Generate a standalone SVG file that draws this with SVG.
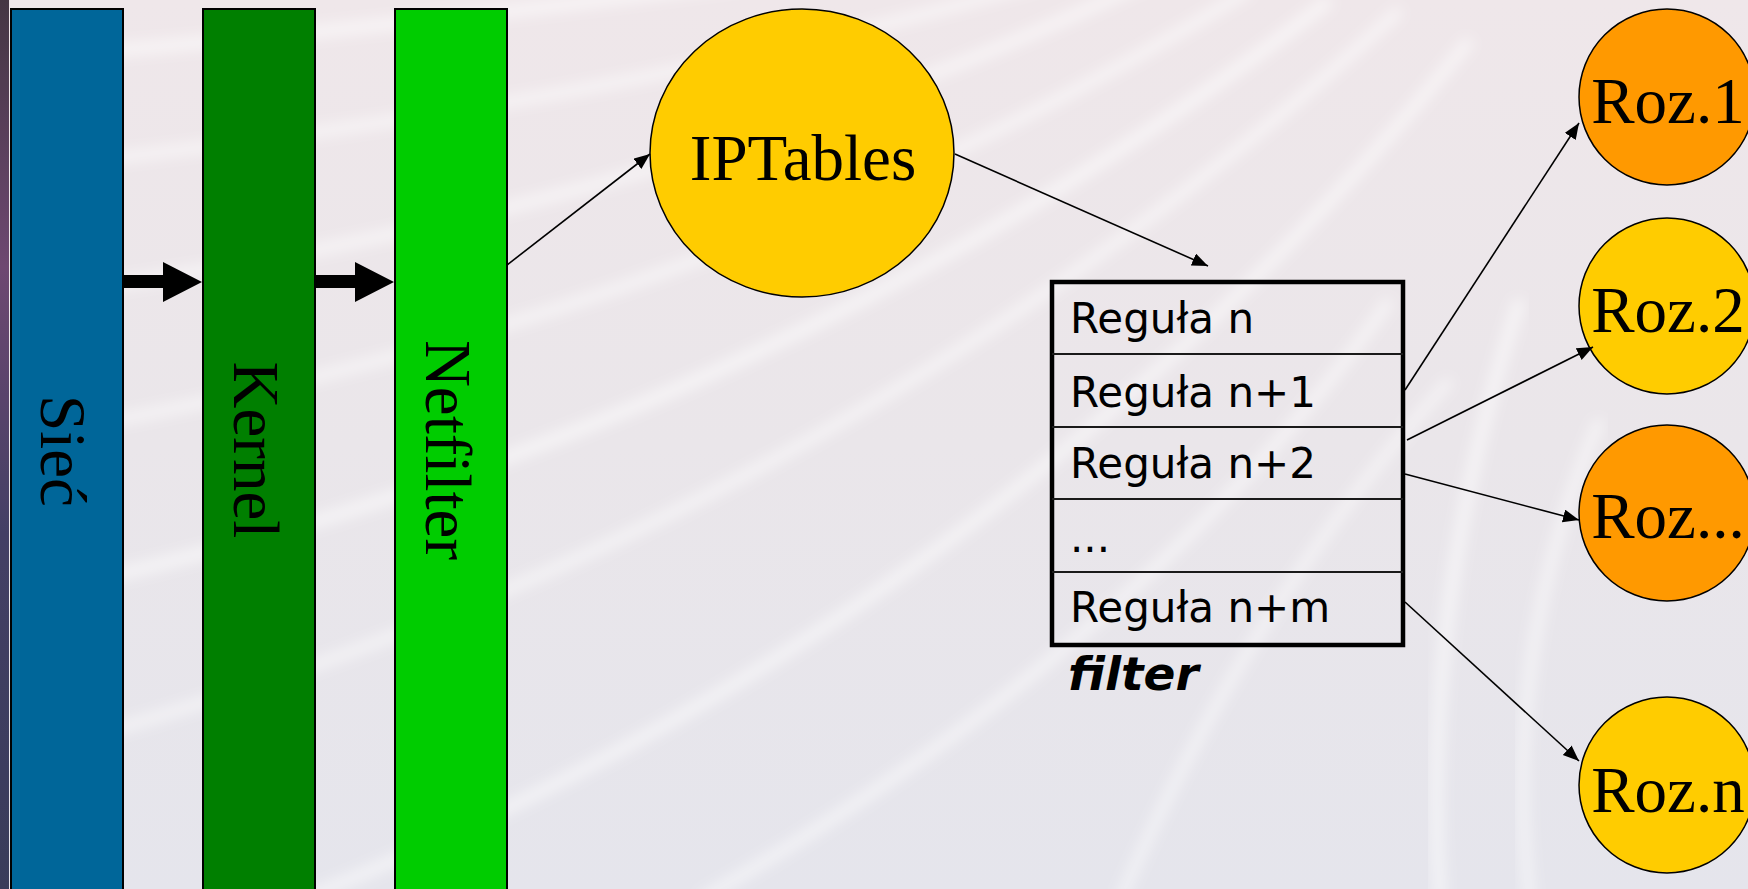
<svg xmlns="http://www.w3.org/2000/svg" width="1748" height="889" viewBox="0 0 1748 889">
  <defs>
    <linearGradient id="bg" x1="0" y1="0" x2="0" y2="1">
      <stop offset="0" stop-color="#EFE7EA"/>
      <stop offset="0.5" stop-color="#EAE6EA"/>
      <stop offset="1" stop-color="#E5E5EC"/>
    </linearGradient>
    <linearGradient id="edge" x1="0" y1="0" x2="0" y2="1">
      <stop offset="0" stop-color="#2B1B2A"/>
      <stop offset="0.3" stop-color="#5A2F5E"/>
      <stop offset="0.6" stop-color="#2A2550"/>
      <stop offset="1" stop-color="#1E2244"/>
    </linearGradient>
    <filter id="soft" x="-10%" y="-10%" width="120%" height="120%">
      <feGaussianBlur stdDeviation="7"/>
    </filter>
    <marker id="arr" markerUnits="userSpaceOnUse" markerWidth="18" markerHeight="14" refX="16" refY="6.5" orient="auto">
      <path d="M0,0 L16,6.5 L0,13 z" fill="#000"/>
    </marker>
  </defs>
  <style>
    .bar{stroke:#000;stroke-width:2}
    .vtxt{font-family:"Liberation Serif","Times New Roman",serif;font-size:65px;fill:#000}
    .node{stroke:#000;stroke-width:1.5}
    .ntxt{font-family:"Liberation Serif","Times New Roman",serif;font-size:65px;fill:#000;text-anchor:middle}
    .row{font-family:"DejaVu Sans",Verdana,sans-serif;font-size:42px;fill:#000}
    .cap{font-family:"DejaVu Sans",Verdana,sans-serif;font-size:47px;font-weight:bold;font-style:italic;fill:#000}
    .link{stroke:#000;stroke-width:1.6;fill:none;marker-end:url(#arr)}
    .streak{fill:none;stroke:#FFFFFF;stroke-opacity:0.6;filter:url(#soft)}
  </style>

  <!-- backdrop with soft light streaks -->
  <rect x="0" y="0" width="1748" height="889" fill="url(#bg)"/>
  <g id="backdrop-streaks">
    <path class="streak" stroke-width="12" d="M0,60 Q500,20 900,-40"/>
    <path class="streak" stroke-width="10" d="M0,170 Q600,110 1050,-20"/>
    <path class="streak" stroke-width="11" d="M0,300 Q650,220 1150,-20"/>
    <path class="streak" stroke-width="10" d="M0,440 Q700,330 1250,-10"/>
    <path class="streak" stroke-width="12" d="M0,600 Q750,450 1330,0"/>
    <path class="streak" stroke-width="10" d="M0,760 Q800,560 1400,10"/>
    <path class="streak" stroke-width="11" d="M300,900 Q1000,620 1470,40"/>
    <path class="streak" stroke-width="10" d="M700,900 Q1150,640 1390,300"/>
    <path class="streak" stroke-width="12" d="M1440,900 Q1420,600 1520,300"/>
    <path class="streak" stroke-width="10" d="M1530,900 Q1500,650 1600,420"/>
    <path class="streak" stroke-width="9" d="M1120,900 Q1250,600 1450,380"/>
  </g>
  <rect x="0" y="0" width="9" height="889" fill="url(#edge)"/>
  <rect x="0" y="0" width="9" height="889" fill="#FFFFFF" opacity="0.12"/>

  <!-- layer bars -->
  <g id="siec">
    <rect class="bar" x="11" y="9" width="112" height="900" fill="#006699"/>
    <text class="vtxt" transform="translate(41,451) rotate(90)" text-anchor="middle">Sieć</text>
  </g>
  <g id="kernel">
    <rect class="bar" x="203" y="9" width="112" height="900" fill="#007F00"/>
    <text class="vtxt" transform="translate(234,450) rotate(90)" text-anchor="middle">Kernel</text>
  </g>
  <g id="netfilter">
    <rect class="bar" x="395" y="9" width="112" height="900" fill="#00CC00"/>
    <text class="vtxt" transform="translate(426,450) rotate(90)" text-anchor="middle">Netfilter</text>
  </g>

  <g id="iptables">
    <ellipse class="node" cx="802" cy="153" rx="152" ry="144" fill="#FFCC00"/>
    <text class="ntxt" x="803" y="180">IPTables</text>
  </g>

  <!-- rule table of the filter chain -->
  <g id="filter">
    <rect x="1052" y="282" width="351" height="363" fill="none" stroke="#000" stroke-width="4.5"/>
    <g stroke="#1A1A1A" stroke-width="2">
      <line x1="1052" y1="354" x2="1403" y2="354"/>
      <line x1="1052" y1="427" x2="1403" y2="427"/>
      <line x1="1052" y1="499" x2="1403" y2="499"/>
      <line x1="1052" y1="572" x2="1403" y2="572"/>
    </g>
    <text class="row" x="1070" y="333">Reguła n</text>
    <text class="row" x="1070" y="407">Reguła n+1</text>
    <text class="row" x="1070" y="478">Reguła n+2</text>
    <text class="row" x="1070" y="552">...</text>
    <text class="row" x="1070" y="622">Reguła n+m</text>
    <text class="cap" x="1068" y="690">filter</text>
  </g>

  <g id="roz1">
    <circle class="node" cx="1667" cy="97" r="88" fill="#FF9900"/>
    <text class="ntxt" x="1668" y="123">Roz.1</text>
  </g>
  <g id="roz2">
    <circle class="node" cx="1667" cy="306" r="88" fill="#FFCC00"/>
    <text class="ntxt" x="1668" y="332">Roz.2</text>
  </g>
  <g id="roz3">
    <circle class="node" cx="1667" cy="513" r="88" fill="#FF9900"/>
    <text class="ntxt" x="1668" y="538">Roz...</text>
  </g>
  <g id="rozn">
    <circle class="node" cx="1667" cy="785" r="88" fill="#FFCC00"/>
    <text class="ntxt" x="1668" y="812">Roz.n</text>
  </g>

  <g id="connectors">
    <polygon fill="#000" points="123,275 163,275 163,262 202,282 163,302 163,288 123,288"/>
    <polygon fill="#000" points="315,275 355,275 355,262 394,282 355,302 355,288 315,288"/>
    <line class="link" x1="507" y1="265" x2="650" y2="154"/>
    <line class="link" x1="955" y1="154" x2="1208" y2="266"/>
    <line class="link" x1="1405" y1="390" x2="1579" y2="123"/>
    <line class="link" x1="1407" y1="440" x2="1593" y2="347"/>
    <line class="link" x1="1405" y1="474" x2="1579" y2="520"/>
    <line class="link" x1="1405" y1="602" x2="1579" y2="761"/>
  </g>
</svg>
